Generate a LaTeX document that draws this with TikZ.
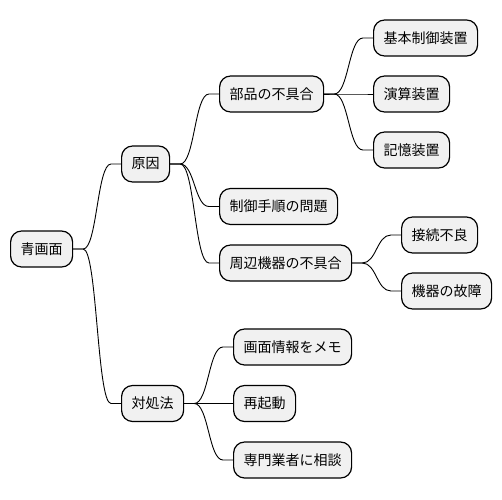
\documentclass[tikz,border=0pt]{standalone}
\usepackage{fontspec}
\setmainfont{Noto Sans CJK JP}
\usetikzlibrary{calc}
\definecolor{boxgray}{HTML}{F1F1F1}
\newcommand\mmlink[2]{%
  \draw[link] let \p1=(#1.east), \p2=(#2.west) in
    (\p1) -- (\x1+10pt,\y1)
    .. controls ({(\x1+\x2)/2},\y1) and ({(\x1+\x2)/2},\y2) ..
    (\x2-10pt,\y2) -- (\p2);}
\begin{document}
\begin{tikzpicture}[x=1pt,y=-1pt,
  box/.style={draw=black, fill=boxgray, line width=1.2pt, rounded corners=11pt,
    minimum height=36pt, inner xsep=10pt, inner ysep=0pt, anchor=west,
    font=\fontsize{14}{16}\selectfont},
  link/.style={line width=0.9pt, draw=black}]
\useasboundingbox (0,0) rectangle (502,499);
\node[box] (root) at (10,249) {青画面};
\node[box] (c1) at (121,164) {原因};
\node[box] (c2) at (121,403.5) {対処法};
\node[box] (c11) at (219,94) {部品の不具合};
\node[box] (c12) at (219,206.5) {制御手順の問題};
\node[box] (c13) at (219,263) {周辺機器の不具合};
\node[box] (c111) at (373,38) {基本制御装置};
\node[box] (c112) at (373,94) {演算装置};
\node[box] (c113) at (373,150) {記憶装置};
\node[box] (c131) at (401,235) {接続不良};
\node[box] (c132) at (401,291) {機器の故障};
\node[box] (c21) at (233,347) {画面情報をメモ};
\node[box] (c22) at (233,403.5) {再起動};
\node[box] (c23) at (233,460) {専門業者に相談};
\mmlink{root}{c1}
\mmlink{root}{c2}
\mmlink{c1}{c11}
\mmlink{c1}{c12}
\mmlink{c1}{c13}
\mmlink{c11}{c111}
\mmlink{c11}{c112}
\mmlink{c11}{c113}
\mmlink{c13}{c131}
\mmlink{c13}{c132}
\mmlink{c2}{c21}
\mmlink{c2}{c22}
\mmlink{c2}{c23}
\end{tikzpicture}
\end{document}
